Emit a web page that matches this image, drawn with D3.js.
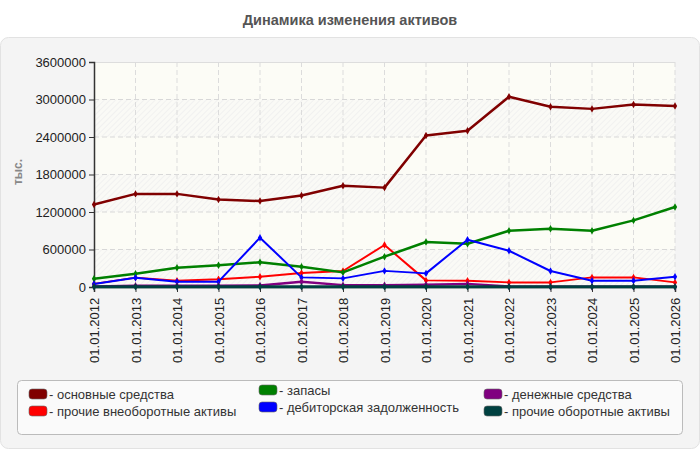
<!DOCTYPE html>
<html><head><meta charset="utf-8">
<script src="https://cdn.jsdelivr.net/npm/d3@7"></script>
<style>body{margin:0;background:#fff;font-family:"Liberation Sans",Arial,sans-serif;}</style>
</head><body><svg id="c" width="700" height="450"></svg>
<script>
const categories = ["01.01.2012","01.01.2013","01.01.2014","01.01.2015","01.01.2016","01.01.2017","01.01.2018","01.01.2019","01.01.2020","01.01.2021","01.01.2022","01.01.2023","01.01.2024","01.01.2025","01.01.2026"];
const osnovnye = [1320000,1490000,1490000,1400000,1375000,1465000,1620000,1590000,2425000,2500000,3045000,2885000,2850000,2920000,2895000];
const prochieVneob = [50000,150000,100000,125000,165000,224000,256000,672000,106000,100000,74000,74000,154000,154000,74000];
const zapasy = [133000,213000,309000,347000,395000,325000,234000,485000,720000,693000,900000,933000,900000,1066000,1280000];
const debitor = [48000,149000,85000,85000,789000,154000,138000,258000,218000,757000,580000,256000,100000,100000,165000];
const denezhnye = [10000,20000,20000,20000,25000,85000,30000,30000,35000,50000,10000,5000,5000,5000,5000];
const prochieOb = [3000,3000,3000,3000,3000,3000,3000,3000,3000,3000,3000,3000,3000,3000,3000];
const yTicks = [0,600000,1200000,1800000,2400000,3000000,3600000];
const seriesNames = ["основные средства","прочие внеоборотные активы","запасы","дебиторская задолженность","денежные средства","прочие оборотные активы"];
const seriesColors = ["#800000","#ff0000","#008000","#0000ff","#800080","#004040"];
const seriesValues = [osnovnye, prochieVneob, zapasy, debitor, denezhnye, prochieOb];
const seriesWidths = [2.5,2,2.5,2,2.5,3];

const svg = d3.select("#c");
// panel
svg.append("rect").attr("x",0.5).attr("y",37.5).attr("width",699).attr("height",411).attr("rx",8)
  .attr("fill","#f4f4f4").attr("stroke","#e2e2e2");
svg.append("text").attr("x",350).attr("y",25).attr("text-anchor","middle")
  .attr("font-size",14.5).attr("font-weight","bold").attr("fill","#555").text("Динамика изменения активов");

const L=94,R=675,T=62,B=287;
const x = d3.scalePoint().domain(categories).range([L,R]);
const y = d3.scaleLinear().domain([0,3600000]).range([B,T]);

const defs = svg.append("defs");
const pat = defs.append("pattern").attr("id","hatch").attr("patternUnits","userSpaceOnUse")
  .attr("width",4).attr("height",4).attr("patternTransform","rotate(45)");
pat.append("rect").attr("width",4).attr("height",4).attr("fill","#fafaf6");
pat.append("line").attr("x1",0).attr("y1",0).attr("x2",0).attr("y2",4).attr("stroke","#ececec").attr("stroke-width",1.2);

svg.append("rect").attr("x",L).attr("y",T).attr("width",R-L).attr("height",B-T).attr("fill","#fcfcf6");
for(let i=0;i<yTicks.length-1;i++){
  if(i%2===0){
    svg.append("rect").attr("x",L).attr("y",y(yTicks[i+1])).attr("width",R-L)
      .attr("height",y(yTicks[i])-y(yTicks[i+1])).attr("fill","url(#hatch)");
  }
}
svg.append("line").attr("x1",L).attr("x2",R).attr("y1",T+0.5).attr("y2",T+0.5).attr("stroke","#ddd");
svg.append("g").selectAll("line").data(yTicks.slice(1,-1)).join("line")
  .attr("x1",L).attr("x2",R).attr("y1",d=>y(d)).attr("y2",d=>y(d))
  .attr("stroke","#d8d8d8").attr("stroke-dasharray","5,3");
svg.append("g").selectAll("line").data(categories.slice(1)).join("line")
  .attr("x1",d=>x(d)).attr("x2",d=>x(d)).attr("y1",T).attr("y2",B)
  .attr("stroke","#dcdcdc").attr("stroke-dasharray","5,3");

const yAxis = svg.append("g").attr("transform",`translate(${L},0)`)
  .call(d3.axisLeft(y).tickValues(yTicks).tickSize(5).tickPadding(3).tickFormat(d3.format("d")));
yAxis.selectAll("text").attr("font-size",13).attr("fill","#222").attr("font-family","Liberation Sans, Arial, sans-serif");
yAxis.select(".domain").attr("stroke","#333").attr("stroke-width",1.5);
yAxis.selectAll(".tick line").attr("stroke","#333");

const xAxis = svg.append("g").attr("transform",`translate(0,${B})`)
  .call(d3.axisBottom(x).tickSize(5).tickPadding(4));
xAxis.select(".domain").attr("stroke","#333").attr("stroke-width",1.5);
xAxis.selectAll(".tick line").attr("stroke","#333");
xAxis.selectAll("text").attr("font-size",13).attr("fill","#222").attr("font-family","Liberation Sans, Arial, sans-serif")
  .attr("transform","rotate(-90)").attr("text-anchor","end").attr("dx","-0.6em").attr("dy","0.35em").attr("x",-3).attr("y",0);

svg.append("text").attr("transform","translate(22,172) rotate(-90)").attr("text-anchor","middle")
  .attr("font-size",12).attr("font-weight","bold").attr("fill","#888").text("тыс.");

const line = d3.line().x((d,i)=>x(categories[i])).y(d=>y(d));
seriesValues.forEach((vals,k)=>{
  const g = svg.append("g");
  g.append("path").datum(vals).attr("d",line).attr("fill","none")
    .attr("stroke",seriesColors[k]).attr("stroke-width",seriesWidths[k]).attr("stroke-linejoin","round");
  g.selectAll("path.m").data(vals).join("path").attr("class","m")
    .attr("transform",(d,i)=>`translate(${x(categories[i])},${y(d)})`)
    .attr("d",d3.symbol(d3.symbolDiamond,16)).attr("fill",seriesColors[k]);
});

svg.append("rect").attr("x",17.5).attr("y",380.5).attr("width",665).attr("height",54).attr("rx",4)
  .attr("fill","#fafafa").attr("stroke","#bbb");
const legPos = [[29,394],[29,411],[259,390],[259,407],[484,394],[484,411]];
seriesNames.forEach((n,k)=>{
  const [lx,ly]=legPos[k];
  svg.append("rect").attr("x",lx).attr("y",ly-5).attr("width",18).attr("height",10).attr("rx",3)
    .attr("fill",seriesColors[k]).attr("stroke","#666").attr("stroke-width",0.6);
  svg.append("text").attr("x",lx+20).attr("y",ly+4.5).attr("font-size",13).attr("fill","#333").text("- "+n);
});
</script></body></html>
